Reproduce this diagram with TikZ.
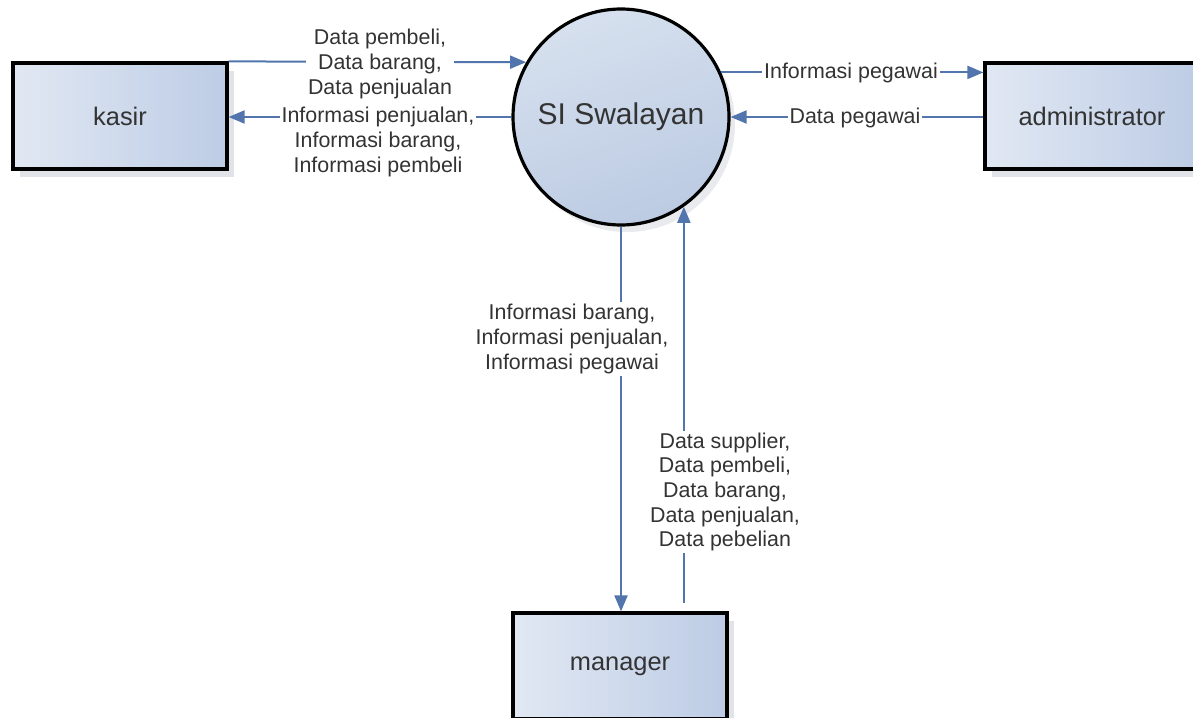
\documentclass[tikz,border=0pt]{standalone}
\usepackage{fontspec}
\setmainfont{Liberation Sans}
\usetikzlibrary{arrows.meta,shadows}

\definecolor{inkgray}{HTML}{333333}
\definecolor{flowblue}{HTML}{5275AE}
\definecolor{fillL}{HTML}{E1E8F3}
\definecolor{fillR}{HTML}{BDCCE5}
\definecolor{circT}{HTML}{D6E0EE}
\definecolor{circB}{HTML}{BCCBE3}
\definecolor{shade}{HTML}{DADDE3}

\tikzset{
  entity/.style={draw=black, line width=1.6pt, rectangle,
    minimum width=107pt, minimum height=53pt, inner sep=0pt,
    left color=fillL, right color=fillR, text=inkgray,
    font=\fontsize{12.7}{15}\selectfont,
    drop shadow={shadow xshift=3.5pt, shadow yshift=-4pt, fill=shade, opacity=0.8}},
  process/.style={draw=black, line width=1.6pt, circle,
    minimum size=108pt, inner sep=0pt,
    shading=axis, top color=circT, bottom color=circB, shading angle=20,
    text=inkgray, font=\fontsize{15}{18}\selectfont,
    drop shadow={shadow xshift=3pt, shadow yshift=-3.5pt, fill=shade, opacity=0.6}},
  flow/.style={draw=flowblue, line width=1pt,
    -{Triangle[length=8pt,width=6.5pt]}},
  flowlabel/.style={fill=white, inner sep=1pt, align=center, text=inkgray,
    font=\fontsize{10.7}{12.3}\selectfont},
}

\begin{document}
\begin{tikzpicture}[x=0.5pt,y=-0.5pt]
  \clip (0,0) rectangle (1193,717);
  \fill[white] (0,0) rectangle (1193,717);

  % external entities and the central process
  \node[entity]  (kasir)   at (120,116)  {kasir};
  \node[entity]  (admin)   at (1092,116) {administrator};
  \node[entity]  (manager) at (620,666)  {manager};
  \node[process] (sys)     at (621,117)  {SI Swalayan};

  % kasir <-> system
  \draw[flow] (kasir.north east) -- (sys.150);
  \draw[flow] (sys.west) -- (kasir.east |- sys.west);

  % system <-> administrator
  \draw[flow] (sys.24) -- (sys.24 -| admin.west);
  \draw[flow] (admin.west |- sys.east) -- (sys.east);

  % system <-> manager
  \draw[flow] (sys.south) -- (sys.south |- manager.north);
  \draw[flow] ([yshift=4pt]sys.-55 |- manager.north) -- (sys.-55);

  % data flow labels
  \node[flowlabel] (l1) at (380,64)  {Data pembeli,\\Data barang,\\Data penjualan};
  \node[flowlabel] (l2) at (378,142) {Informasi penjualan,\\Informasi barang,\\Informasi pembeli};
  \node[flowlabel] (l3) at (851,73)  {Informasi pegawai};
  \node[flowlabel] (l4) at (855,118) {Data pegawai};
  \node[flowlabel] (l5) at (572,339) {Informasi barang,\\Informasi penjualan,\\Informasi pegawai};
  \node[flowlabel] (l6) at (725,492) {Data supplier,\\Data pembeli,\\Data barang,\\Data penjualan,\\Data pebelian};
\end{tikzpicture}
\end{document}
